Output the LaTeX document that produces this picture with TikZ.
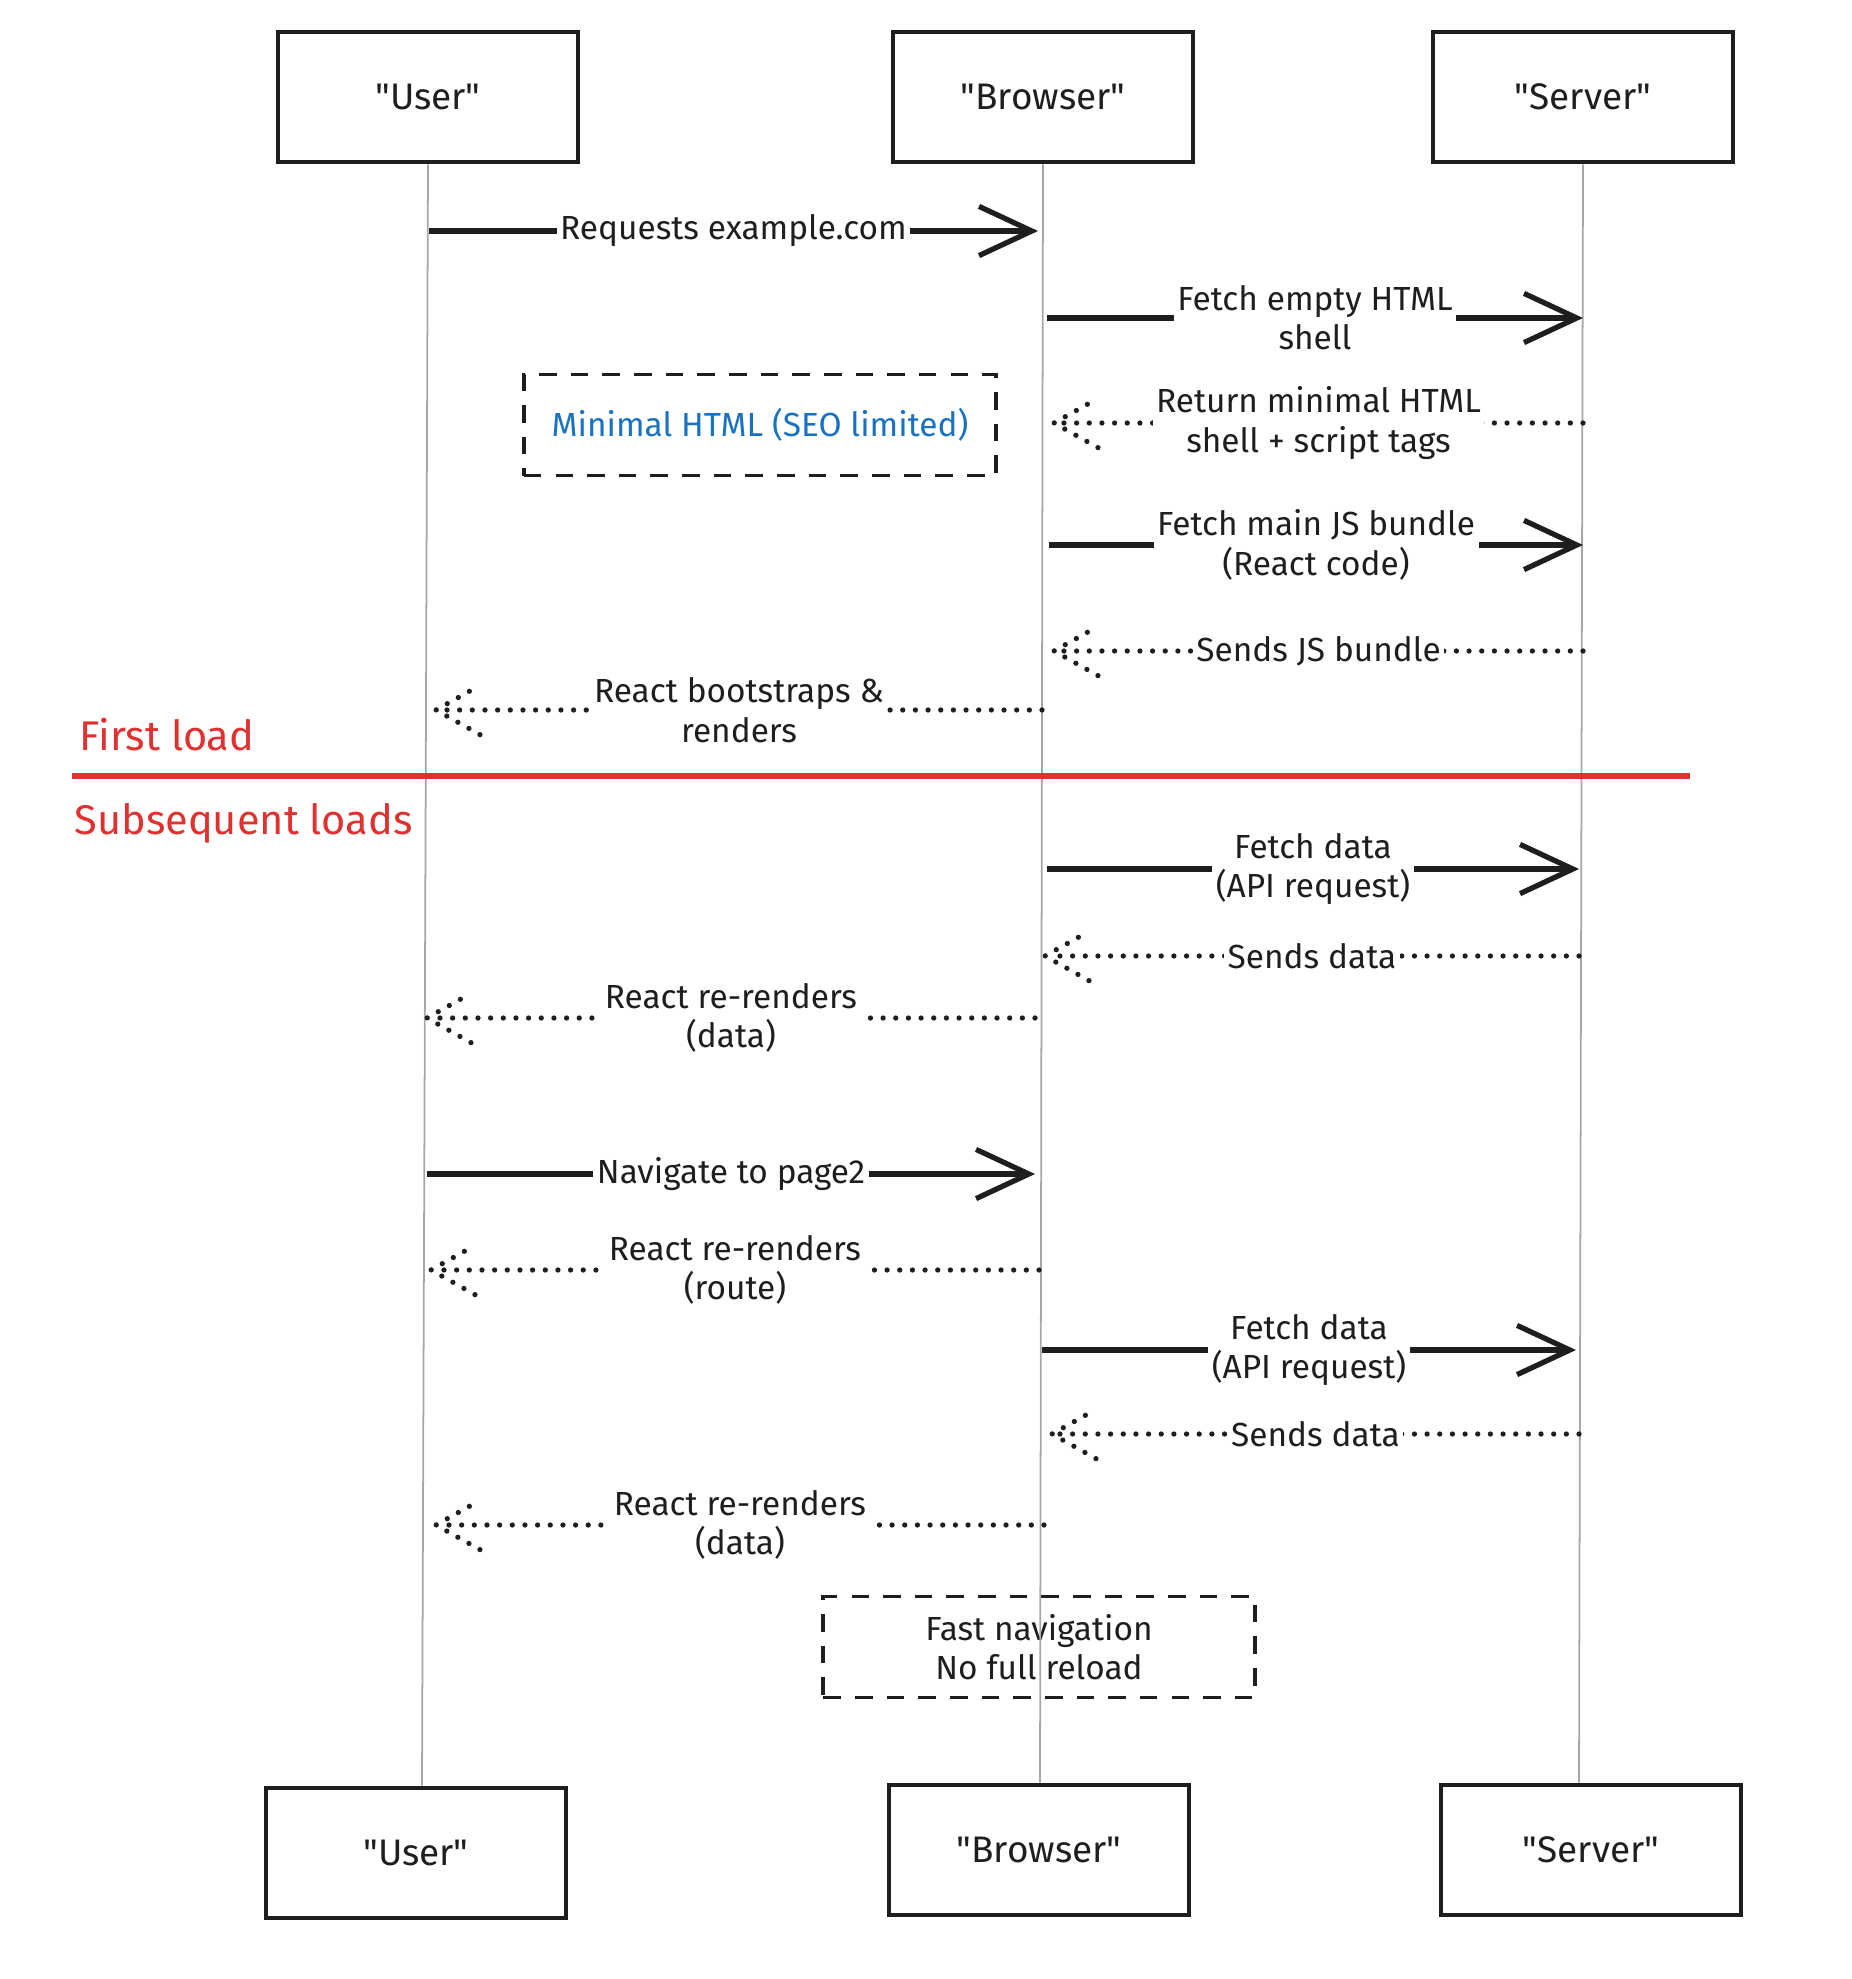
\documentclass[tikz,border=0pt]{standalone}
\usepackage{fontspec}
\setmainfont{Fira Sans}
\usepackage{tikz}
\usetikzlibrary{arrows.meta}

\definecolor{ink}{HTML}{1E1E1E}
\definecolor{phasered}{HTML}{E03131}
\definecolor{noteblue}{HTML}{1971C2}

% open arrow head drawn as dots, for the replies
\pgfdeclarearrow{
  name = DotBarb,
  setup code = {
    \pgfarrowssettipend{0pt}
    \pgfarrowssetlineend{-1pt}
    \pgfarrowsupperhullpoint{-13pt}{7pt}
    \pgfarrowsupperhullpoint{0pt}{0pt}
  },
  drawing code = {
    \pgfsetdash{{0pt}{3.6pt}}{0pt}
    \pgfsetroundcap
    \pgfpathmoveto{\pgfpoint{-12.5pt}{7pt}}
    \pgfpathlineto{\pgfpointorigin}
    \pgfpathlineto{\pgfpoint{-12.5pt}{-7pt}}
    \pgfusepathqstroke
  }
}

\newcommand{\actorname}[1]{\textquotedbl#1\textquotedbl}

\begin{document}
\begin{tikzpicture}[x=0.01cm, y=-0.01cm,
        every node/.style={font=\fontsize{9.5}{11.2}\selectfont, text=ink},
        actor/.style={draw=ink, line width=1.3pt, minimum width=3cm, minimum height=1.3cm, font=\fontsize{10.5}{12}\selectfont},
        lifeline/.style={draw=black!35, line width=0.5pt},
        call/.style={draw=ink, line width=1.5pt, -{Straight Barb[length=15pt, width=14pt]}},
        reply/.style={draw=ink, line width=1.5pt, line cap=round, dash pattern=on 0pt off 3.6pt, -DotBarb},
        msglabel/.style={fill=white, inner sep=1pt, align=center},
        notebox/.style={draw=ink, line width=1.1pt, dash pattern=on 5pt off 4pt, align=center},
        phase/.style={font=\fontsize{11.8}{14}\selectfont, text=phasered, anchor=west, inner sep=0pt}]
        \useasboundingbox (0,0) rectangle (1852,1979);

        % actors, top and bottom
        \node[actor] (userT) at (428,97) {\actorname{User}};
        \node[actor] (browserT) at (1043,97) {\actorname{Browser}};
        \node[actor] (serverT) at (1583,97) {\actorname{Server}};
        \node[actor] (userB) at (416,1853) {\actorname{User}};
        \node[actor] (browserB) at (1039,1850) {\actorname{Browser}};
        \node[actor] (serverB) at (1591,1850) {\actorname{Server}};

        % notes
        \node[notebox, minimum width=4.72cm, minimum height=1.01cm, text=noteblue] (seo) at (760,425) {Minimal HTML (SEO limited)};
        \node[notebox, minimum width=4.31cm, minimum height=1.01cm] (fastnav) at (1039,1647) {Fast navigation\\No full reload};

        % lifelines
        \draw[lifeline] (userT.south) -- (userB.north -| 422,0);
        \draw[lifeline] (browserT.south) -- (browserB.north -| 1040,0);
        \draw[lifeline] (serverT.south) -- (serverB.north -| 1579,0);

        % first load
        \coordinate (m1a) at (429,231);
        \coordinate (m1b) at (1038,231);
        \draw[call] (m1a) -- (m1b) node[msglabel, midway] (m1) {Requests example.com};
        \coordinate (m2a) at (1047,318);
        \coordinate (m2b) at (1583,318);
        \draw[call] (m2a) -- (m2b) node[msglabel, midway] (m2) {Fetch empty HTML\\shell};
        \coordinate (m3a) at (1583,423);
        \coordinate (m3b) at (1054,423);
        \draw[reply] (m3a) -- (m3b) node[msglabel, midway] (m3) {Return minimal HTML\\shell + script tags};
        \coordinate (m4a) at (1049,545);
        \coordinate (m4b) at (1583,545);
        \draw[call] (m4a) -- (m4b) node[msglabel, midway] (m4) {Fetch main JS bundle\\(React code)};
        \coordinate (m5a) at (1583,651);
        \coordinate (m5b) at (1054,651);
        \draw[reply] (m5a) -- (m5b) node[msglabel, midway] (m5) {Sends JS bundle};
        \coordinate (m6a) at (1042,710);
        \coordinate (m6b) at (436,710);
        \draw[reply] (m6a) -- (m6b) node[msglabel, midway] (m6) {React bootstraps \&\\renders};

        % phase split
        \node[phase] (firstload) at (79,735) {First load};
        \coordinate (splitL) at (72,776);
        \coordinate (splitR) at (1690,776);
        \draw[phasered, line width=1.5pt] (splitL) -- (splitR);
        \node[phase] (laterloads) at (74,823) {Subsequent loads};

        % subsequent loads
        \coordinate (m7a) at (1047,869);
        \coordinate (m7b) at (1579,869);
        \draw[call] (m7a) -- (m7b) node[msglabel, midway] (m7) {Fetch data\\(API request)};
        \coordinate (m8a) at (1579,956);
        \coordinate (m8b) at (1045,956);
        \draw[reply] (m8a) -- (m8b) node[msglabel, midway] (m8) {Sends data};
        \coordinate (m9a) at (1035,1018);
        \coordinate (m9b) at (427,1018);
        \draw[reply] (m9a) -- (m9b) node[msglabel, midway] (m9) {React re-renders\\(data)};
        \coordinate (m10a) at (427,1174);
        \coordinate (m10b) at (1035,1174);
        \draw[call] (m10a) -- (m10b) node[msglabel, midway] (m10) {Navigate to page2};
        \coordinate (m11a) at (1039,1270);
        \coordinate (m11b) at (431,1270);
        \draw[reply] (m11a) -- (m11b) node[msglabel, midway] (m11) {React re-renders\\(route)};
        \coordinate (m12a) at (1042,1350);
        \coordinate (m12b) at (1576,1350);
        \draw[call] (m12a) -- (m12b) node[msglabel, midway] (m12) {Fetch data\\(API request)};
        \coordinate (m13a) at (1579,1434);
        \coordinate (m13b) at (1052,1434);
        \draw[reply] (m13a) -- (m13b) node[msglabel, midway] (m13) {Sends data};
        \coordinate (m14a) at (1044,1525);
        \coordinate (m14b) at (436,1525);
        \draw[reply] (m14a) -- (m14b) node[msglabel, midway] (m14) {React re-renders\\(data)};
\end{tikzpicture}
\end{document}
